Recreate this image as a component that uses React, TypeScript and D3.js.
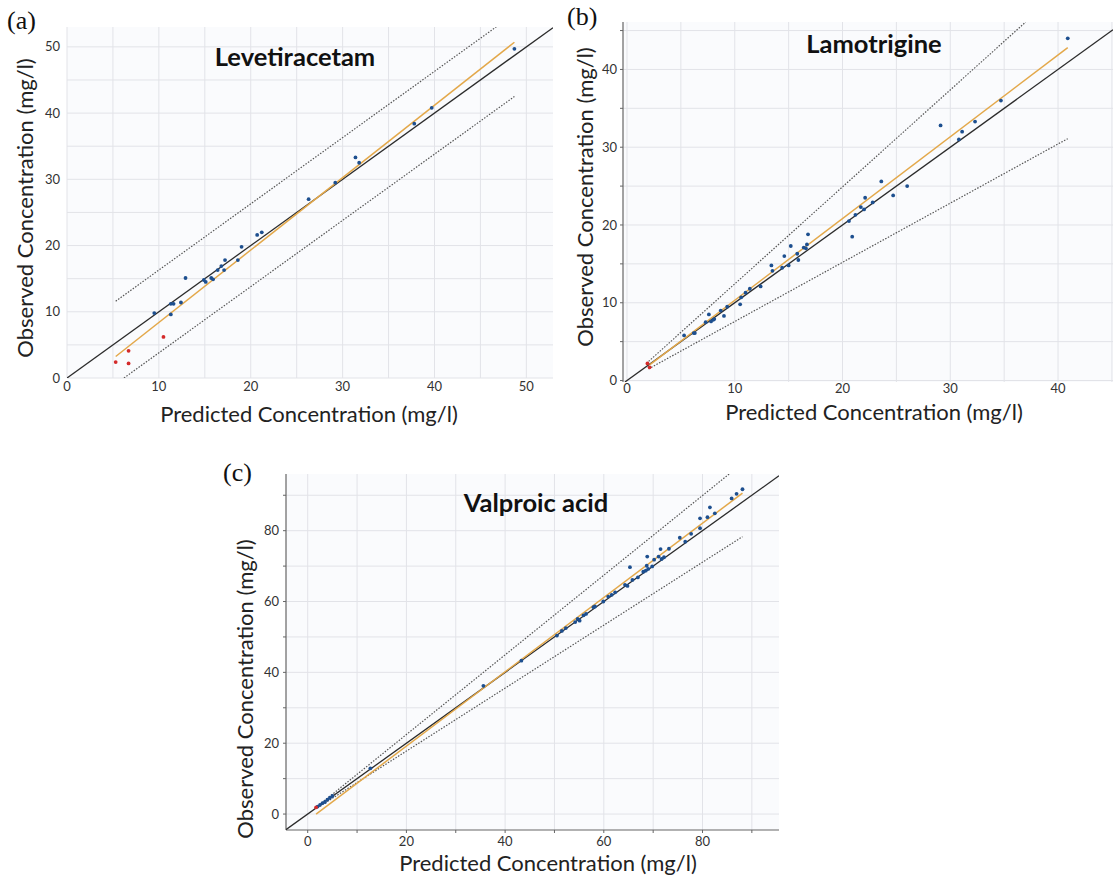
import React from "react";
import * as d3 from "d3";

// ---------- DATA ----------
// (a) Levetiracetam
const levPredBlue = [9.5, 11.3, 11.3, 11.6, 12.4, 12.9, 14.9, 15.1, 15.7, 15.9, 16.4, 16.8, 17.1, 17.2, 18.6, 19.0, 20.7, 21.2, 26.3, 29.2, 31.4, 31.8, 37.8, 39.7, 48.7];
const levObsBlue = [9.8, 9.6, 11.2, 11.2, 11.4, 15.1, 14.8, 14.5, 15.1, 14.9, 16.3, 16.9, 16.3, 17.8, 17.8, 19.8, 21.6, 22.0, 27.0, 29.5, 33.3, 32.5, 38.4, 40.8, 49.7];
const levPredRed = [5.3, 6.7, 6.7, 10.5];
const levObsRed = [2.4, 4.1, 2.2, 6.2];
const levFitX = [5.3, 48.7];
const levFitY = [3.25, 50.7];
const levUpperX = [5.3, 46.8];
const levUpperY = [11.6, 53.1];
const levLowerX = [6.2, 48.7];
const levLowerY = [0, 42.5];

// (b) Lamotrigine
const lamPredBlue = [5.3, 6.2, 6.3, 7.3, 7.6, 7.8, 8.0, 8.1, 8.7, 9.0, 9.3, 10.5, 10.6, 11.0, 11.4, 12.4, 13.4, 13.5, 14.4, 14.6, 15.0, 15.2, 15.8, 15.9, 16.4, 16.7, 16.8, 16.6, 20.6, 20.9, 21.2, 21.7, 22.0, 22.1, 22.8, 24.7, 23.6, 26.0, 29.1, 30.8, 31.1, 32.3, 34.7, 40.9];
const lamObsBlue = [5.8, 6.1, 6.1, 7.5, 8.5, 7.6, 7.8, 7.9, 9.0, 8.3, 9.5, 9.8, 10.7, 11.3, 11.8, 12.1, 14.8, 14.1, 14.5, 16.0, 14.8, 17.3, 16.3, 15.5, 17.1, 17.5, 18.8, 17.0, 20.5, 18.5, 21.3, 22.3, 22.0, 23.5, 22.9, 23.8, 25.6, 25.0, 32.8, 31.0, 32.0, 33.3, 36.0, 44.0];
const lamPredRed = [1.9, 2.1];
const lamObsRed = [2.2, 1.7];
const lamFitX = [2.1, 40.9];
const lamFitY = [2.0, 42.8];
const lamUpperX = [1.8, 37.0];
const lamUpperY = [2.2, 46.1];
const lamLowerX = [2.0, 40.9];
const lamLowerY = [1.5, 31.1];

// (c) Valproic acid
const valPredBlue = [2.0, 2.5, 3.0, 3.5, 4.0, 4.5, 5.0, 12.7, 35.6, 43.3, 50.5, 51.5, 52.3, 54.2, 54.7, 55.1, 55.9, 56.4, 57.9, 58.2, 59.9, 60.9, 61.6, 62.3, 64.3, 64.8, 65.3, 65.8, 66.9, 68.0, 68.5, 68.7, 68.8, 69.0, 69.8, 70.2, 71.1, 71.5, 71.7, 72.2, 73.2, 75.4, 76.5, 77.7, 79.5, 79.5, 81.0, 81.5, 82.5, 85.9, 86.9, 88.1];
const valObsBlue = [2.1, 2.6, 3.1, 3.4, 4.1, 4.6, 5.1, 12.9, 36.2, 43.3, 50.4, 51.7, 52.5, 54.2, 55.1, 54.6, 56.1, 56.5, 58.4, 58.6, 60.0, 61.4, 61.9, 62.6, 64.7, 64.4, 69.7, 66.1, 66.8, 68.4, 68.7, 70.1, 72.7, 69.2, 69.9, 71.8, 72.7, 74.8, 72.0, 72.5, 74.9, 78.0, 76.9, 79.1, 80.7, 83.5, 83.8, 86.6, 84.9, 89.1, 90.4, 91.7];
const valPredRed = [1.7];
const valObsRed = [1.9];
const valFitX = [1.7, 88.1];
const valFitY = [0, 90.6];
const valUpperX = [1.9, 85.4];
const valUpperY = [2.1, 96];
const valLowerX = [1.9, 88.1];
const valLowerY = [1.7, 78.3];

const ticksA = [0, 10, 20, 30, 40, 50];
const ticksB = [0, 10, 20, 30, 40];
const ticksC = [0, 20, 40, 60, 80];

const X_TITLE = "Predicted Concentration (mg/l)";
const Y_TITLE = "Observed Concentration (mg/l)";

// ---------- STYLE ----------
const BLUE = "#1d4f8f";
const RED = "#d42a2a";
const ORANGE = "#e3a84a";
const BLACK = "#2b2b2b";
const DOT = "#555";
const GRID = "#e2e3e8";
const BG = "#fafbfd";
const FONT = "Lato, 'Open Sans', sans-serif";

type PanelProps = {
  box: { x0: number; x1: number; y0: number; y1: number };
  xDom: [number, number];
  yDom: [number, number];
  ticks: number[];
  gridStep: number;
  title: string;
  titlePos: [number, number];
  tag: string;
  tagPos: [number, number];
  xTitlePos: [number, number];
  yTitlePos: [number, number];
  blue: [number[], number[]];
  red: [number[], number[]];
  fit: [number[], number[]];
  upper: [number[], number[]];
  lower: [number[], number[]];
  leftAxis: boolean;
  bottomAxis: boolean;
  xTickDy: number;
  yTickDx: number;
  id: string;
};

function Panel(p: PanelProps) {
  const x = d3.scaleLinear().domain(p.xDom).range([p.box.x0, p.box.x1]);
  const y = d3.scaleLinear().domain(p.yDom).range([p.box.y1, p.box.y0]);
  const gx = d3.range(Math.ceil(p.xDom[0] / p.gridStep) * p.gridStep, p.xDom[1] + 1e-9, p.gridStep);
  const gy = d3.range(Math.ceil(p.yDom[0] / p.gridStep) * p.gridStep, p.yDom[1] + 1e-9, p.gridStep);
  const line = d3.line<[number, number]>().x((d) => x(d[0])).y((d) => y(d[1]));
  const seg = (a: [number[], number[]]) => line(a[0].map((v, i) => [v, a[1][i]] as [number, number])) || "";
  const lo = Math.max(p.xDom[0], p.yDom[0]);
  const hi = Math.min(p.xDom[1], p.yDom[1]);
  const w = p.box.x1 - p.box.x0;
  const h = p.box.y1 - p.box.y0;
  return (
    <g>
      <defs>
        <clipPath id={p.id}>
          <rect x={p.box.x0} y={p.box.y0} width={w} height={h} />
        </clipPath>
      </defs>
      <rect x={p.box.x0} y={p.box.y0} width={w} height={h} fill={BG} />
      {gx.map((v) => (
        <line key={"gx" + v} x1={x(v)} x2={x(v)} y1={p.box.y0} y2={p.box.y1} stroke={GRID} strokeWidth={1} />
      ))}
      {gy.map((v) => (
        <line key={"gy" + v} y1={y(v)} y2={y(v)} x1={p.box.x0} x2={p.box.x1} stroke={GRID} strokeWidth={1} />
      ))}
      {p.leftAxis && (
        <g>
          <line x1={p.box.x0} x2={p.box.x0} y1={p.box.y0} y2={p.box.y1} stroke="#666" strokeWidth={1.2} />
          {gy.map((v) => (
            <line key={"ly" + v} x1={p.box.x0 - 3} x2={p.box.x0} y1={y(v)} y2={y(v)} stroke="#666" />
          ))}
        </g>
      )}
      {p.bottomAxis && (
        <g>
          <line x1={p.box.x0} x2={p.box.x1} y1={p.box.y1} y2={p.box.y1} stroke="#666" strokeWidth={1.2} />
          {gx.map((v) => (
            <line key={"bx" + v} x1={x(v)} x2={x(v)} y1={p.box.y1} y2={p.box.y1 + 3} stroke="#666" />
          ))}
        </g>
      )}
      <g clipPath={`url(#${p.id})`}>
        <path d={seg(p.upper)} stroke={DOT} strokeWidth={1.2} strokeDasharray="1.5,1.5" fill="none" />
        <path d={seg(p.lower)} stroke={DOT} strokeWidth={1.2} strokeDasharray="1.5,1.5" fill="none" />
        <line x1={x(lo)} y1={y(lo)} x2={x(hi)} y2={y(hi)} stroke={BLACK} strokeWidth={1.3} />
        <path d={seg(p.fit)} stroke={ORANGE} strokeWidth={1.5} fill="none" />
        {p.blue[0].map((v, i) => (
          <circle key={"b" + i} cx={x(v)} cy={y(p.blue[1][i])} r={1.9} fill={BLUE} />
        ))}
        {p.red[0].map((v, i) => (
          <circle key={"r" + i} cx={x(v)} cy={y(p.red[1][i])} r={1.9} fill={RED} />
        ))}
      </g>
      {p.ticks.map((v) => (
        <text key={"tx" + v} x={x(v)} y={p.box.y1 + p.xTickDy} textAnchor="middle" fontFamily={FONT} fontSize={13} fill="#333">
          {v}
        </text>
      ))}
      {p.ticks.map((v) => (
        <text key={"ty" + v} x={p.box.x0 - p.yTickDx} y={y(v)} dy="0.35em" textAnchor="end" fontFamily={FONT} fontSize={13} fill="#333">
          {v}
        </text>
      ))}
      <text x={p.titlePos[0]} y={p.titlePos[1]} textAnchor="middle" dy="0.35em" fontFamily={FONT} fontWeight="bold" fontSize={25.5} fill="#111">
        {p.title}
      </text>
      <text x={p.tagPos[0]} y={p.tagPos[1]} fontFamily="'Liberation Serif', 'DejaVu Serif', serif" fontSize={26} fill="#111">
        {p.tag}
      </text>
      <text x={p.xTitlePos[0]} y={p.xTitlePos[1]} textAnchor="middle" dy="0.35em" fontFamily={FONT} fontSize={22} fill="#222">
        {X_TITLE}
      </text>
      <text
        transform={`translate(${p.yTitlePos[0]},${p.yTitlePos[1]}) rotate(-90)`}
        textAnchor="middle"
        dy="0.35em"
        fontFamily={FONT}
        fontSize={22}
        fill="#222"
      >
        {Y_TITLE}
      </text>
    </g>
  );
}

export default function App() {
  return (
    <svg width={1114} height={877} style={{ position: "absolute", left: 0, top: 0, background: "#fff" }}>
      <rect width={1114} height={877} fill="#fff" />
      <Panel
        id="ca"
        box={{ x0: 67, x1: 553, y0: 27, y1: 378 }}
        xDom={[0, 52.9]}
        yDom={[0, 53]}
        ticks={ticksA}
        gridStep={5}
        title="Levetiracetam"
        titlePos={[295, 57]}
        tag="(a)"
        tagPos={[7, 29]}
        xTitlePos={[309, 414]}
        yTitlePos={[25, 208]}
        blue={[levPredBlue, levObsBlue]}
        red={[levPredRed, levObsRed]}
        fit={[levFitX, levFitY]}
        upper={[levUpperX, levUpperY]}
        lower={[levLowerX, levLowerY]}
        leftAxis={false}
        bottomAxis={false}
        xTickDy={13}
        yTickDx={7}
      />
      <Panel
        id="cb"
        box={{ x0: 623, x1: 1113, y0: 22, y1: 382 }}
        xDom={[-0.37, 45.1]}
        yDom={[-0.19, 46.1]}
        ticks={ticksB}
        gridStep={5}
        title="Lamotrigine"
        titlePos={[874, 44]}
        tag="(b)"
        tagPos={[567, 25]}
        xTitlePos={[874, 412]}
        yTitlePos={[585, 197]}
        blue={[lamPredBlue, lamObsBlue]}
        red={[lamPredRed, lamObsRed]}
        fit={[lamFitX, lamFitY]}
        upper={[lamUpperX, lamUpperY]}
        lower={[lamLowerX, lamLowerY]}
        leftAxis={true}
        bottomAxis={false}
        xTickDy={11}
        yTickDx={6}
      />
      <Panel
        id="cc"
        box={{ x0: 286, x1: 779, y0: 474, y1: 830 }}
        xDom={[-4.4, 95.5]}
        yDom={[-4.5, 96]}
        ticks={ticksC}
        gridStep={10}
        title="Valproic acid"
        titlePos={[536, 503]}
        tag="(c)"
        tagPos={[223, 481]}
        xTitlePos={[548, 863]}
        yTitlePos={[245, 689]}
        blue={[valPredBlue, valObsBlue]}
        red={[valPredRed, valObsRed]}
        fit={[valFitX, valFitY]}
        upper={[valUpperX, valUpperY]}
        lower={[valLowerX, valLowerY]}
        leftAxis={true}
        bottomAxis={true}
        xTickDy={16}
        yTickDx={7}
      />
    </svg>
  );
}
